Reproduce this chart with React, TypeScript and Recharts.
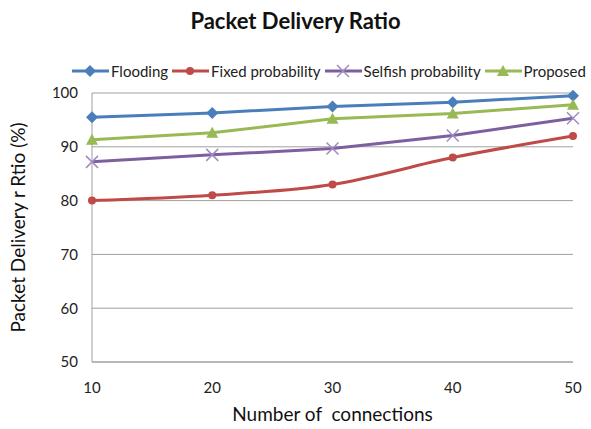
import React from "react";
import { LineChart, Line, XAxis, YAxis, CartesianGrid } from "recharts";

const connections = [10, 20, 30, 40, 50];
const flooding = [95.5, 96.3, 97.5, 98.3, 99.5];
const fixedProb = [80, 81, 83, 88, 92];
const selfishProb = [87.2, 88.5, 89.7, 92.1, 95.3];
const proposed = [91.3, 92.6, 95.2, 96.2, 97.8];
const yTicks = [50, 60, 70, 80, 90, 100];

const series = [
  { key: "flooding", name: "Flooding", color: "#4a7ebb", shape: "diamond", curve: "linear" },
  { key: "fixed", name: "Fixed probability", color: "#be4b48", shape: "circle", curve: "monotone" },
  { key: "selfish", name: "Selfish probability", color: "#7d5fa0", shape: "cross", curve: "linear" },
  { key: "proposed", name: "Proposed", color: "#98b954", shape: "triangle", curve: "linear" },
] as const;

const data = connections.map((c, i) => ({
  x: c,
  flooding: flooding[i],
  fixed: fixedProb[i],
  selfish: selfishProb[i],
  proposed: proposed[i],
}));

const FONT = "Lato, 'Open Sans', sans-serif";

function Marker({ cx, cy, shape, color }: any) {
  if (cx == null || cy == null) return null;
  if (shape === "diamond") {
    return <path d={`M${cx},${cy - 6}L${cx + 6},${cy}L${cx},${cy + 6}L${cx - 6},${cy}Z`} fill={color} />;
  }
  if (shape === "circle") {
    return <circle cx={cx} cy={cy} r={4} fill={color} />;
  }
  if (shape === "triangle") {
    return <path d={`M${cx},${cy - 6}L${cx + 6},${cy + 5}L${cx - 6},${cy + 5}Z`} fill={color} />;
  }
  return (
    <path
      d={`M${cx - 6},${cy - 6}L${cx + 6},${cy + 6}M${cx - 6},${cy + 6}L${cx + 6},${cy - 6}`}
      stroke="#a08cc0"
      strokeWidth={1.5}
    />
  );
}

// legend drawn as an overlay so it doesn't shrink the plot area
function ChartLegend() {
  return (
    <div
      style={{
        position: "absolute",
        top: 62,
        left: 70,
        display: "flex",
        fontFamily: FONT,
        fontSize: 15,
        color: "#222",
        whiteSpace: "nowrap",
      }}
    >
      {series.map((s) => (
        <div key={s.key} style={{ display: "flex", alignItems: "center", marginRight: 2 }}>
          <svg width={41} height={14}>
            <line x1={2} y1={7} x2={39} y2={7} stroke={s.color} strokeWidth={3} />
            <Marker cx={20} cy={7} shape={s.shape} color={s.color} />
          </svg>
          <span>{s.name}</span>
        </div>
      ))}
    </div>
  );
}

export default function App() {
  return (
    <div style={{ position: "absolute", left: 0, top: 0, width: 591, height: 429, background: "#fff" }}>
      <div
        style={{
          position: "absolute",
          top: 7,
          width: 591,
          textAlign: "center",
          fontFamily: FONT,
          fontWeight: 700,
          fontSize: 22,
          color: "#111",
        }}
      >
        Packet Delivery Ratio
      </div>
      <LineChart width={591} height={429} data={data} margin={{ top: 93, right: 18, bottom: 0, left: 0 }}>
        <CartesianGrid vertical={false} stroke="#a0a0a0" />
        <XAxis
          dataKey="x"
          type="number"
          domain={[10, 50]}
          ticks={connections}
          height={67}
          tickLine={false}
          axisLine={{ stroke: "#a0a0a0" }}
          tick={{ fontSize: 15, fill: "#222", fontFamily: FONT }}
          tickMargin={14}
          label={{
            value: "Number of\u00a0 connections",
            position: "insideBottom",
            offset: 8,
            style: { fontSize: 19, fill: "#111", fontFamily: FONT },
          }}
        />
        <YAxis
          domain={[50, 100]}
          ticks={yTicks}
          width={92}
          tickLine={false}
          axisLine={{ stroke: "#a0a0a0" }}
          tick={{ fontSize: 15, fill: "#222", fontFamily: FONT }}
          tickMargin={8}
          label={{
            value: "Packet Delivery r Rtio (%)",
            angle: -90,
            position: "insideLeft",
            offset: 18,
            style: { fontSize: 19, fill: "#111", fontFamily: FONT, textAnchor: "middle" },
          }}
        />
        {series.map((s) => (
          <Line
            key={s.key}
            dataKey={s.key}
            name={s.name}
            type={s.curve}
            stroke={s.color}
            strokeWidth={3}
            dot={(p: any) => <Marker key={`${s.key}-${p.index}`} cx={p.cx} cy={p.cy} shape={s.shape} color={s.color} />}
            activeDot={false}
            isAnimationActive={false}
          />
        ))}
      </LineChart>
      <ChartLegend />
    </div>
  );
}
